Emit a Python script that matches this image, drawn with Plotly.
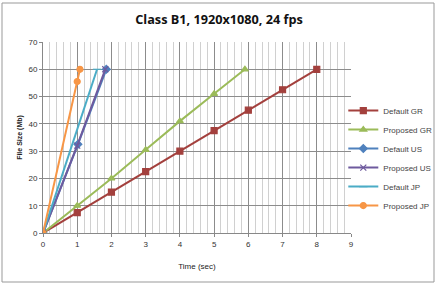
import plotly.graph_objects as go

title = "Class B1, 1920x1080, 24 fps"
series_names = ["Default GR", "Proposed GR", "Default US", "Proposed US", "Default JP", "Proposed JP"]
x_default_gr = [0, 1, 2, 3, 4, 5, 6, 7, 8]
y_default_gr = [0, 7.5, 15, 22.5, 30, 37.5, 45, 52.5, 60]
x_proposed_gr = [0, 1, 2, 3, 4, 5, 5.9]
y_proposed_gr = [0, 10, 20, 30.5, 41, 51, 60]
x_default_us = [0, 1.02, 1.85]
y_default_us = [0, 32.5, 60]
x_proposed_us = [0, 1.0, 1.82]
y_proposed_us = [0, 32, 60]
x_default_jp = [0, 1.58]
y_default_jp = [0, 60]
x_proposed_jp = [0, 1.0, 1.08]
y_proposed_jp = [0, 55.5, 60]

colors = ["#A3403D", "#9BBB59", "#4F81BD", "#6E5A9E", "#4BACC6", "#F79646"]
symbols = ["square", "triangle-up", "diamond", "x-thin", "line-ew", "circle"]

xs = [x_default_gr, x_proposed_gr, x_default_us, x_proposed_us, x_default_jp, x_proposed_jp]
ys = [y_default_gr, y_proposed_gr, y_default_us, y_proposed_us, y_default_jp, y_proposed_jp]

fig = go.Figure()
for name, x, y, c, s in zip(series_names, xs, ys, colors, symbols):
    fig.add_trace(go.Scatter(
        x=x, y=y, name=name, mode="lines+markers",
        line=dict(color=c, width=2),
        marker=dict(symbol=s, size=6, color=c, line=dict(color=c, width=1.2)),
    ))

fig.update_layout(
    width=438, height=286,
    margin=dict(l=43, r=87, t=42, b=53, autoexpand=False),
    paper_bgcolor="white", plot_bgcolor="white",
    font=dict(family="Liberation Sans, Arial", size=8, color="#333"),
    title=dict(text="<b>" + title + "</b>", x=0.5, xref="container", xanchor="center",
               y=1 - 20 / 286, yref="container", yanchor="middle",
               font=dict(family="Open Sans, Liberation Sans", size=12.7, color="#111")),
    showlegend=True,
    legend=dict(x=0.975, y=0.717, xanchor="left", yanchor="top", font=dict(size=8, color="#444"),
                tracegroupgap=0, itemwidth=30, bgcolor="rgba(0,0,0,0)"),
    xaxis=dict(range=[0, 9], dtick=1, showgrid=True, gridcolor="#8c8c8c", gridwidth=1,
               minor=dict(dtick=0.2, showgrid=True, gridcolor="#d0d0d0", gridwidth=1),
               ticks="outside", ticklen=3, tickcolor="#888", showline=True, linecolor="#888",
               zeroline=False, automargin=False,
               title=dict(text="Time (sec)", font=dict(size=8, color="#222"), standoff=15)),
    yaxis=dict(range=[0, 70], dtick=10, showgrid=True, gridcolor="#8c8c8c", gridwidth=1,
               ticks="outside", ticklen=3, tickcolor="#888", showline=True, linecolor="#888",
               zeroline=False, automargin=False,
               title=dict(text="<b>File Size (Mb)</b>", font=dict(size=7, color="#222"), standoff=5)),
)
fig.add_shape(type="rect", xref="paper", yref="paper",
              x0=-41/308, x1=(308+83)/308, y0=-49/191, y1=(191+39)/191,
              line=dict(color="#999", width=1), fillcolor="rgba(0,0,0,0)", layer="below")
fig.write_html("out.html", post_script="document.body.style.margin='0';",
               config={"displayModeBar": False})
